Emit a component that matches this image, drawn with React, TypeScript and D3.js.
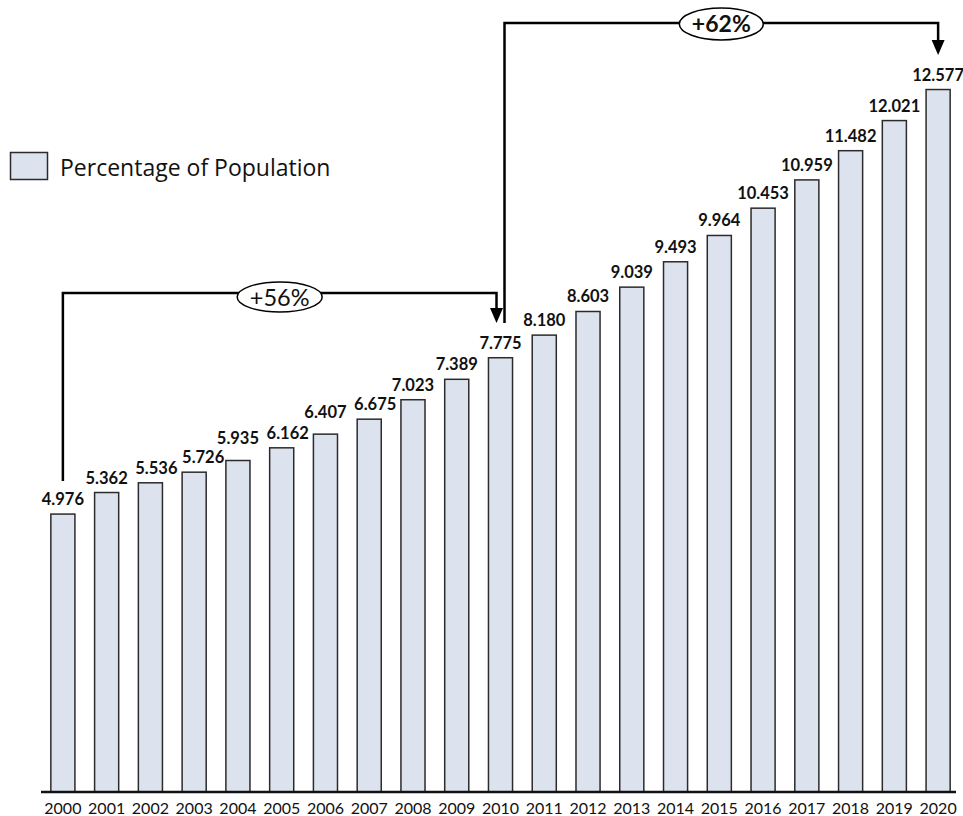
import React from "react";
import * as d3 from "d3";

const years = ["2000","2001","2002","2003","2004","2005","2006","2007","2008","2009","2010","2011","2012","2013","2014","2015","2016","2017","2018","2019","2020"];
const values = [4.976,5.362,5.536,5.726,5.935,6.162,6.407,6.675,7.023,7.389,7.775,8.180,8.603,9.039,9.493,9.964,10.453,10.959,11.482,12.021,12.577];
const seriesName = "Percentage of Population";
const growthLabels = ["+56%", "+62%"];

// layout nudges for a few value labels (dx, dy in px)
const labelNudge: [number, number][] = years.map(() => [0, 0]);
labelNudge[2] = [6, 0];
labelNudge[3] = [9, 0];
labelNudge[4] = [0, -8];
labelNudge[5] = [6, 0];
labelNudge[6] = [0, -7];
labelNudge[7] = [6, 0];

const W = 963, H = 816;
const FONT = "Lato, Carlito, 'Open Sans', sans-serif";

export default function App() {
  const x = d3.scaleBand<string>().domain(years).range([41, 960]).paddingInner(0.45).paddingOuter(0.225);
  const y = d3.scaleLinear().domain([0, 14.18]).range([792, 0]);
  const cx = (yr: string) => (x(yr) as number) + x.bandwidth() / 2;

  const arrow = (ax: number, tipY: number) =>
    `M${ax - 6.5},${tipY - 15} L${ax + 6.5},${tipY - 15} L${ax},${tipY} Z`;

  const x0 = cx("2000"), x10 = cx("2010"), x20 = cx("2020");
  const b1Left = x0, b1Right = x10 - 4, b1Level = 293, b1Bottom = 481, b1Tip = 323;
  const b2Left = x10 + 4, b2Right = x20, b2Level = 23, b2Tip = 55;

  return (
    <svg width={W} height={H} style={{ position: "absolute", left: 0, top: 0, background: "#fff" }} fontFamily={FONT}>
      {/* bars */}
      {years.map((yr, i) => (
        <rect key={yr} x={x(yr)} y={y(values[i])} width={x.bandwidth()} height={y(0) - y(values[i])}
          fill="#dde3ee" stroke="#2b2b2b" strokeWidth={1.5} />
      ))}
      {/* baseline */}
      <line x1={41} x2={956} y1={y(0)} y2={y(0)} stroke="#111" strokeWidth={2.5} />
      {/* year labels */}
      {years.map((yr) => (
        <text key={"t" + yr} x={cx(yr)} y={814} textAnchor="middle" fontSize={16} fill="#111">{yr}</text>
      ))}
      {/* value labels */}
      {years.map((yr, i) => (
        <text key={"v" + yr} x={cx(yr) + labelNudge[i][0]} y={y(values[i]) - 9 + labelNudge[i][1]}
          textAnchor="middle" fontSize={16.5} fontWeight="bold" fill="#111">{values[i].toFixed(3)}</text>
      ))}
      {/* legend */}
      <rect x={10.5} y={152.5} width={37} height={27} fill="#dde3ee" stroke="#2b2b2b" strokeWidth={1.5} />
      <text x={60} y={176} fontSize={23} fontFamily="'Open Sans', sans-serif" fill="#111">{seriesName}</text>

      {/* bracket 1 */}
      <path d={`M${b1Left},${b1Bottom} L${b1Left},${b1Level} L${b1Right},${b1Level} L${b1Right},${b1Tip - 12}`}
        fill="none" stroke="#000" strokeWidth={2.5} />
      <path d={arrow(b1Right, b1Tip)} fill="#000" />
      <ellipse cx={(b1Left + b1Right) / 2} cy={297} rx={42.5} ry={15} fill="#fff" stroke="#000" strokeWidth={1.5} />
      <text x={(b1Left + b1Right) / 2} y={305.5} textAnchor="middle" fontSize={23.5} fill="#111">{growthLabels[0]}</text>

      {/* bracket 2 */}
      <path d={`M${b2Left},${b1Tip} L${b2Left},${b2Level} L${b2Right},${b2Level} L${b2Right},${b2Tip - 12}`}
        fill="none" stroke="#000" strokeWidth={2.5} />
      <path d={arrow(b2Right, b2Tip)} fill="#000" />
      <ellipse cx={(b2Left + b2Right) / 2} cy={24} rx={42} ry={16} fill="#fff" stroke="#000" strokeWidth={1.5} />
      <text x={(b2Left + b2Right) / 2} y={32} textAnchor="middle" fontSize={23} fontWeight="bold" fill="#111">{growthLabels[1]}</text>
    </svg>
  );
}
